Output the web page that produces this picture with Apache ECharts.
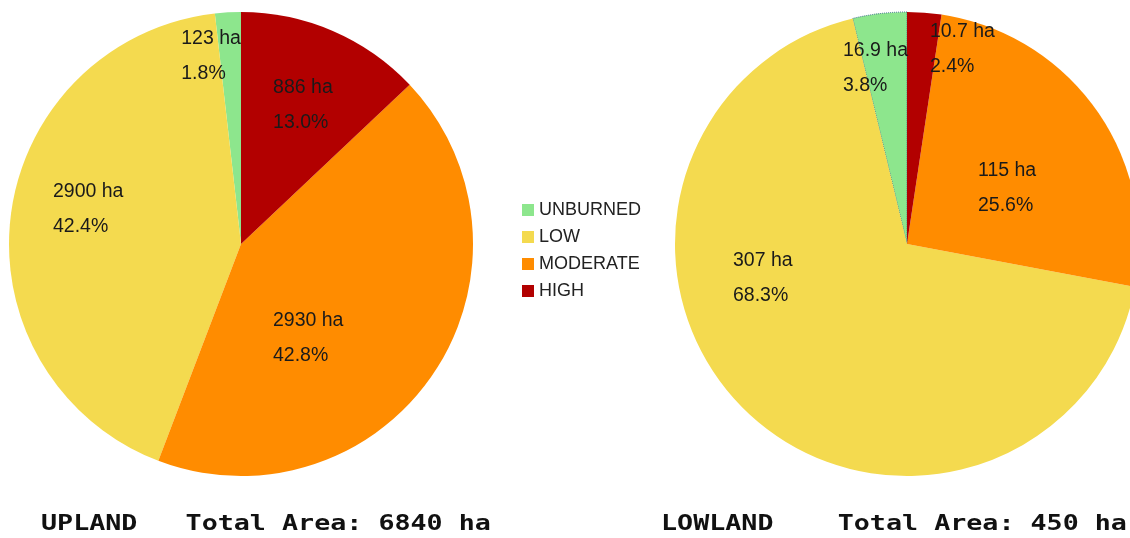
<!DOCTYPE html>
<html>
<head>
<meta charset="utf-8">
<script src="https://cdn.jsdelivr.net/npm/echarts@6/dist/echarts.min.js"></script>
<style>
  html, body { margin: 0; padding: 0; background: #ffffff; }
  #chart { width: 1130px; height: 538px; }
</style>
</head>
<body>
<div id="chart"></div>
<script>
// Burn severity classes and burned area (ha) per landscape unit
const categories = ['UNBURNED', 'LOW', 'MODERATE', 'HIGH'];
const uplandArea = [123, 2900, 2930, 886];
const lowlandArea = [16.9, 307, 115, 10.7];
const uplandTitle = 'UPLAND   Total Area: 6840 ha';
const lowlandTitle = 'LOWLAND    Total Area: 450 ha';

// Severity colours, same order as categories
const palette = ['#8de68d', '#f4da4f', '#ff8c00', '#b20000'];

// Label nudges in px from the default inside anchor, per category
const uplandNudge = [[-53, -69], [-70, -20], [-67, 28], [-15, -30]];
const lowlandNudge = [[-50, -58], [-92, -52], [-26, 13], [14, -76]];

function pieSeries(name, values, center, nudge, itemExtras) {
  const total = values.reduce((a, b) => a + b, 0);
  return {
    type: 'pie',
    name: name,
    center: center,
    radius: [0, 232],
    startAngle: 90,
    clockwise: false,
    avoidLabelOverlap: false,
    silent: true,
    emphasis: { disabled: true },
    itemStyle: { borderWidth: 0 },
    label: {
      show: true,
      position: 'inside',
      formatter: p => p.value + ' ha\n' + (p.value / total * 100).toFixed(1) + '%',
      fontFamily: '"Liberation Sans", Arial, sans-serif',
      fontSize: 19.5,
      lineHeight: 35,
      color: '#1a1a1a'
    },
    labelLine: { show: false },
    labelLayout: p => ({
      dx: nudge[p.dataIndex][0],
      dy: nudge[p.dataIndex][1],
      align: 'left',
      verticalAlign: 'middle'
    }),
    data: values.map((v, i) => Object.assign(
      { name: categories[i], value: v, itemStyle: { color: palette[i] } },
      itemExtras[i] || {}
    ))
  };
}

const chart = echarts.init(document.getElementById('chart'), null, { renderer: 'canvas' });

const titleFont = 'bold 22px "DejaVu Sans Mono", monospace';

chart.setOption({
  backgroundColor: '#ffffff',
  animation: false,
  color: palette,
  legend: {
    orient: 'vertical',
    left: 517,
    top: 196,
    icon: 'rect',
    itemWidth: 12,
    itemHeight: 12,
    itemGap: 9,
    selectedMode: false,
    data: categories,
    textStyle: {
      fontFamily: '"Liberation Sans", Arial, sans-serif',
      fontSize: 18,
      lineHeight: 18,
      color: '#222222'
    }
  },
  graphic: [
    {
      type: 'text', x: 41, y: 524, scaleX: 1.213,
      style: { text: uplandTitle, font: titleFont, fill: '#111111', verticalAlign: 'middle' }
    },
    {
      type: 'text', x: 661, y: 524, scaleX: 1.213,
      style: { text: lowlandTitle, font: titleFont, fill: '#111111', verticalAlign: 'middle' }
    }
  ],
  series: [
    pieSeries('UPLAND', uplandArea, [241, 244], uplandNudge, []),
    pieSeries('LOWLAND', lowlandArea, [907, 244], lowlandNudge, [
      { itemStyle: { color: palette[0], borderColor: '#3f6f8f', borderWidth: 1, borderType: 'dotted' } }
    ])
  ]
});
</script>
</body>
</html>
